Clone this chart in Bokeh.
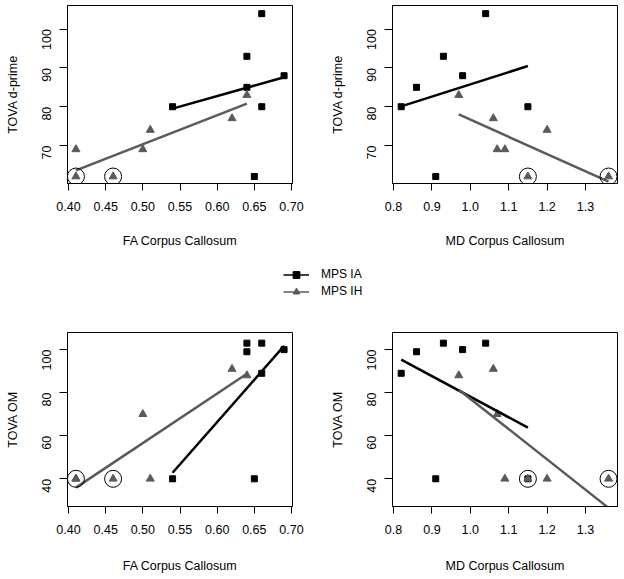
import math
import numpy as np
from bokeh.plotting import figure
from bokeh.layouts import column, row
from bokeh.models import Range1d, FixedTicker, PrintfTickFormatter, Legend, LegendItem
from bokeh.embed import file_html
from bokeh.resources import INLINE

# ---------------- data ----------------
series_names = ["MPS IA", "MPS IH"]

fa_ticks = [0.40, 0.45, 0.50, 0.55, 0.60, 0.65, 0.70]
md_ticks = [0.8, 0.9, 1.0, 1.1, 1.2, 1.3]
dprime_ticks = [70, 80, 90, 100]
om_ticks = [40, 60, 80, 100]

x_titles = ["FA Corpus Callosum", "MD Corpus Callosum"]
y_titles = ["TOVA d-prime", "TOVA OM"]

# Panel 1: FA vs TOVA d-prime
p1_ia_x = [0.54, 0.64, 0.64, 0.66, 0.69, 0.66, 0.65]
p1_ia_y = [80, 93, 85, 104, 88, 80, 62]
p1_ih_x = [0.41, 0.41, 0.46, 0.50, 0.51, 0.62, 0.64]
p1_ih_y = [69, 62, 62, 69, 74, 77, 83]
p1_ia_fit_x = [0.54, 0.69]
p1_ia_fit_y = [79.5, 87.6]
p1_ih_fit_x = [0.41, 0.64]
p1_ih_fit_y = [63.6, 80.8]
p1_circ_x = [0.41, 0.46]
p1_circ_y = [62, 62]

# Panel 2: MD vs TOVA d-prime
p2_ia_x = [0.82, 0.86, 0.91, 0.93, 0.98, 1.04, 1.15]
p2_ia_y = [80, 85, 62, 93, 88, 104, 80]
p2_ih_x = [0.97, 1.06, 1.07, 1.09, 1.15, 1.20, 1.36]
p2_ih_y = [83, 77, 69, 69, 62, 74, 62]
p2_ia_fit_x = [0.82, 1.15]
p2_ia_fit_y = [80.1, 90.5]
p2_ih_fit_x = [0.97, 1.36]
p2_ih_fit_y = [78.0, 60.7]
p2_circ_x = [1.15, 1.36]
p2_circ_y = [62, 62]

# Panel 3: FA vs TOVA OM
p3_ia_x = [0.54, 0.64, 0.64, 0.66, 0.66, 0.69, 0.65]
p3_ia_y = [40, 103, 99, 103, 89, 100, 40]
p3_ih_x = [0.41, 0.41, 0.46, 0.50, 0.51, 0.62, 0.64]
p3_ih_y = [40, 40, 40, 70, 40, 91, 88]
p3_ia_fit_x = [0.54, 0.69]
p3_ia_fit_y = [42.8, 101.7]
p3_ih_fit_x = [0.41, 0.64]
p3_ih_fit_y = [35.9, 88.8]
p3_circ_x = [0.41, 0.46]
p3_circ_y = [40, 40]

# Panel 4: MD vs TOVA OM
p4_ia_x = [0.82, 0.86, 0.91, 0.93, 0.98, 1.04, 1.15]
p4_ia_y = [89, 99, 40, 103, 100, 103, 40]
p4_ih_x = [0.97, 1.06, 1.07, 1.09, 1.15, 1.20, 1.36]
p4_ih_y = [88, 91, 70, 40, 40, 40, 40]
p4_ia_fit_x = [0.82, 1.15]
p4_ia_fit_y = [95.3, 63.8]
p4_ih_fit_x = [0.97, 1.36]
p4_ih_fit_y = [81.4, 26.5]
p4_circ_x = [1.15, 1.36]
p4_circ_y = [40, 40]

# ---------------- styling ----------------
FONT = "Liberation Sans"
FS = "12.5px"
IA_COLOR = "black"
IH_COLOR = "#5a5a5a"

FA_RANGE = (0.39865, 0.70135)
MD_RANGE = (0.7974, 1.38333)
DP_RANGE = (60.2, 106.1)
OM_RANGE = (27.14, 107.94)


def panel(xr, yr, xticks, xfmt, yticks, xlab, ylab, frame_w, frame_h,
          bl, br, bt, bb, x_std, x_lab_std):
    p = figure(width=bl + frame_w + br, height=bt + frame_h + bb,
               x_range=Range1d(*xr), y_range=Range1d(*yr),
               output_backend="svg", toolbar_location=None,
               min_border_left=bl, min_border_right=br,
               min_border_top=bt, min_border_bottom=bb)
    p.background_fill_color = "white"
    p.border_fill_color = "white"
    p.outline_line_color = "black"
    p.outline_line_width = 1
    p.outline_line_alpha = 1
    p.xgrid.visible = False
    p.ygrid.visible = False

    xa = p.xaxis[0]
    xa.ticker = FixedTicker(ticks=xticks)
    xa.formatter = PrintfTickFormatter(format=xfmt)
    xa.axis_label = xlab
    ya = p.yaxis[0]
    ya.ticker = FixedTicker(ticks=yticks)
    ya.axis_label = ylab
    ya.major_label_orientation = math.pi / 2
    for ax in (xa, ya):
        ax.minor_tick_line_color = None
        ax.major_tick_in = 0
        ax.axis_line_color = "black"
        ax.major_tick_line_color = "black"
        ax.major_label_text_font = FONT
        ax.major_label_text_font_size = FS
        ax.major_label_text_color = "black"
        ax.axis_label_text_font = FONT
        ax.axis_label_text_font_size = FS
        ax.axis_label_text_font_style = "normal"
        ax.axis_label_text_color = "black"
    xa.major_tick_out = 7
    xa.major_label_standoff = x_std
    xa.axis_label_standoff = x_lab_std
    ya.major_tick_out = 8
    ya.major_label_standoff = 13
    ya.axis_label_standoff = 15
    return p


def fill(p, ia_x, ia_y, ih_x, ih_y, ia_fx, ia_fy, ih_fx, ih_fy, cx, cy):
    p.scatter(ia_x, ia_y, marker="square", size=6, color=IA_COLOR)
    p.scatter(ih_x, ih_y, marker="triangle", size=8, color=IH_COLOR)
    p.line(ia_fx, ia_fy, line_color=IA_COLOR, line_width=2.5)
    p.line(ih_fx, ih_fy, line_color=IH_COLOR, line_width=2.5)
    p.scatter(cx, cy, marker="circle", size=17, fill_color=None,
              line_color="black", line_width=1)


FW = 225
TOP_FH, BOT_FH = 178, 176

p1 = panel(FA_RANGE, DP_RANGE, fa_ticks, "%.2f", dprime_ticks, x_titles[0], y_titles[0],
           FW, TOP_FH, 67, 20, 5, 72, 11, 20)
p2 = panel(MD_RANGE, DP_RANGE, md_ticks, "%.1f", dprime_ticks, x_titles[1], y_titles[0],
           FW, TOP_FH, 80, 5, 5, 72, 11, 20)
p3 = panel(FA_RANGE, OM_RANGE, fa_ticks, "%.2f", om_ticks, x_titles[0], y_titles[1],
           FW, BOT_FH, 67, 20, 22, 67, 11, 22)
p4 = panel(MD_RANGE, OM_RANGE, md_ticks, "%.1f", om_ticks, x_titles[1], y_titles[1],
           FW, BOT_FH, 80, 5, 22, 67, 11, 22)

fill(p1, p1_ia_x, p1_ia_y, p1_ih_x, p1_ih_y, p1_ia_fit_x, p1_ia_fit_y,
     p1_ih_fit_x, p1_ih_fit_y, p1_circ_x, p1_circ_y)
fill(p2, p2_ia_x, p2_ia_y, p2_ih_x, p2_ih_y, p2_ia_fit_x, p2_ia_fit_y,
     p2_ih_fit_x, p2_ih_fit_y, p2_circ_x, p2_circ_y)
fill(p3, p3_ia_x, p3_ia_y, p3_ih_x, p3_ih_y, p3_ia_fit_x, p3_ia_fit_y,
     p3_ih_fit_x, p3_ih_fit_y, p3_circ_x, p3_circ_y)
fill(p4, p4_ia_x, p4_ia_y, p4_ih_x, p4_ih_y, p4_ia_fit_x, p4_ia_fit_y,
     p4_ih_fit_x, p4_ih_fit_y, p4_circ_x, p4_circ_y)

# ---------------- legend strip ----------------
lf = figure(width=622, height=55, x_range=Range1d(0, 1), y_range=Range1d(0, 1),
            output_backend="svg", toolbar_location=None,
            x_axis_location=None, y_axis_location=None,
            min_border_left=0, min_border_right=0, min_border_top=0, min_border_bottom=0)
lf.outline_line_color = None
lf.xgrid.visible = False
lf.ygrid.visible = False
nan = np.array([np.nan])
l_ia_line = lf.line(nan, nan, line_color=IA_COLOR, line_width=1.5)
l_ia_pt = lf.scatter(nan, nan, marker="square", size=6, color=IA_COLOR)
l_ih_line = lf.line(nan, nan, line_color=IH_COLOR, line_width=1.5)
l_ih_pt = lf.scatter(nan, nan, marker="triangle", size=7, color=IH_COLOR)
legend = Legend(items=[LegendItem(label=series_names[0], renderers=[l_ia_line, l_ia_pt]),
                       LegendItem(label=series_names[1], renderers=[l_ih_line, l_ih_pt])],
                location=(283, 10.5))
legend.padding = 0
legend.margin = 0
legend.spacing = 0
legend.border_line_color = None
legend.background_fill_alpha = 0
legend.glyph_width = 26
legend.glyph_height = 17
legend.label_height = 17
legend.label_standoff = 12
legend.label_text_font = FONT
legend.label_text_font_size = "12px"
legend.label_text_color = "black"
lf.add_layout(legend)

layout = column(row(p1, p2, spacing=0), lf, row(p3, p4, spacing=0), spacing=0)

open("out.html", "w").write(file_html(layout, INLINE))
